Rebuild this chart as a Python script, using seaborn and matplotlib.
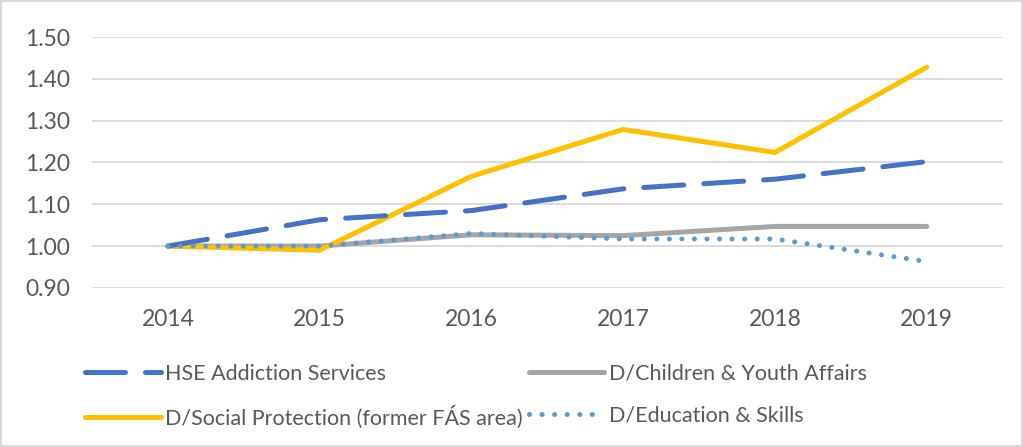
import numpy as np
import pandas as pd
import matplotlib
matplotlib.use("Agg")
import matplotlib.pyplot as plt
import seaborn as sns

years = [2014, 2015, 2016, 2017, 2018, 2019]
hse = [1.00, 1.063, 1.085, 1.137, 1.160, 1.202]
children = [1.00, 1.00, 1.027, 1.025, 1.047, 1.047]
social = [1.00, 0.990, 1.167, 1.279, 1.224, 1.428]
education = [1.00, 1.00, 1.030, 1.017, 1.017, 0.963]

series_names = ["HSE Addiction Services", "D/Children & Youth Affairs",
                "D/Social Protection (former FÁS area)", "D/Education & Skills"]
series_vals = [hse, children, social, education]
colors = ["#4472c4", "#a5a5a5", "#ffc000", "#5b9bd5"]
styles = [(0, (8, 4)), "-", "-", (0, (0.01, 2.5))]

sns.set_theme(style="white")
plt.rcParams["font.family"] = ["Lato", "DejaVu Sans"]

fig = plt.figure(figsize=(10.23, 4.47), dpi=100)
fig.patch.set_edgecolor("#d9d9d9")
fig.patch.set_linewidth(1.5)
ax = fig.add_axes([0.09, 0.356, 0.89, 0.561])

lw = 3.6
zorders = [4, 2, 3, 5]
lines = {}
for name, vals, col, ls, z in zip(series_names, series_vals, colors, styles, zorders):
    df = pd.DataFrame({"year": years, "value": vals})
    sns.lineplot(data=df, x="year", y="value", ax=ax, color=col, linewidth=lw,
                 linestyle=ls, label=name, legend=False, zorder=z)
    ln = ax.lines[-1]
    ln.set_solid_capstyle("round")
    ln.set_dash_capstyle("round")
    lines[name] = ln

ax.set_xlim(2013.5, 2019.5)
ax.set_ylim(0.90, 1.50)
ticks = np.arange(0.90, 1.501, 0.10)
ax.set_yticks(ticks)
ax.set_yticklabels([f"{v:.2f}" for v in ticks])
ax.set_xticks(years)
ax.set_xlabel("")
ax.set_ylabel("")
ax.grid(axis="y", color="#d9d9d9", linewidth=1.3)
ax.set_axisbelow(True)
for s in ax.spines.values():
    s.set_visible(False)
ax.tick_params(axis="both", length=0, labelsize=16.5, labelcolor="#595959")
ax.tick_params(axis="y", pad=16)
ax.tick_params(axis="x", pad=15)

order = [series_names[0], series_names[2], series_names[1], series_names[3]]
leg = fig.legend([lines[n] for n in order], order, loc="upper left",
                 bbox_to_anchor=(0.075, 0.205), ncol=2, frameon=False,
                 fontsize=15.5, handlelength=3.5, handletextpad=0.2,
                 columnspacing=0.3, labelspacing=1.0, borderaxespad=0)
for t in leg.get_texts():
    t.set_color("#595959")

fig.savefig("out.png", dpi=100)
